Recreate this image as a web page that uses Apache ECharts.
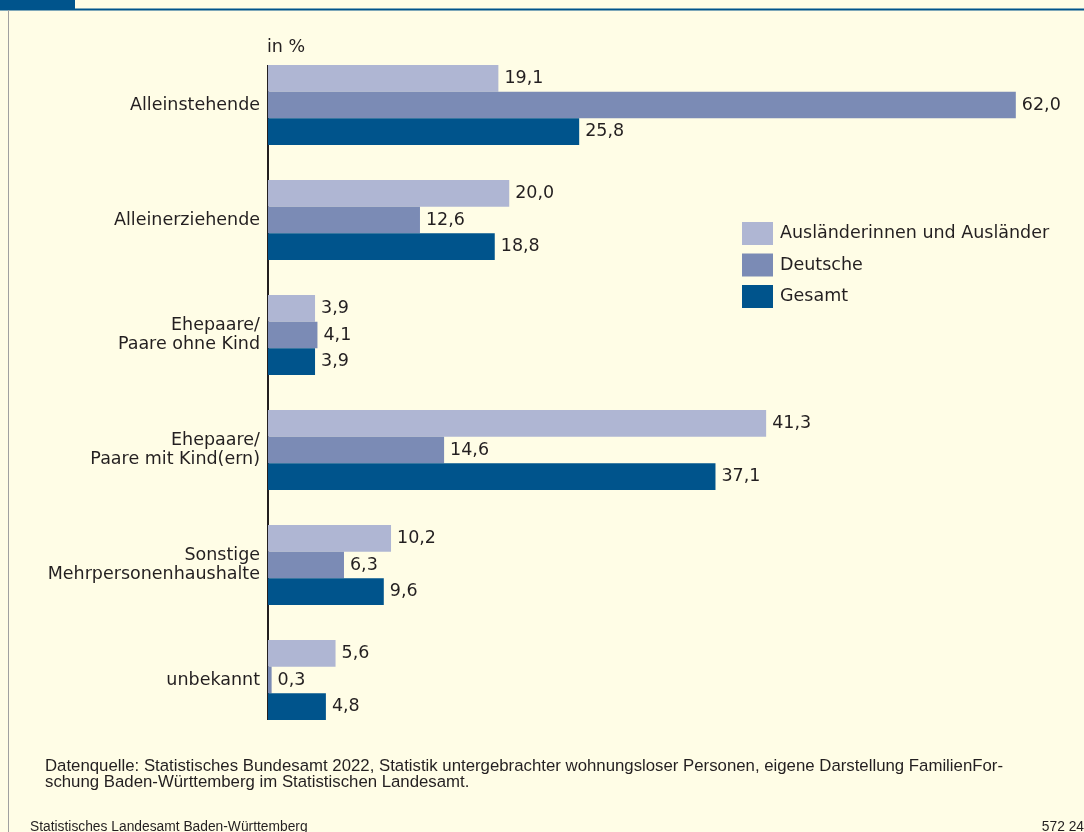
<!DOCTYPE html>
<html>
<head>
<meta charset="utf-8">
<style>
  html, body { margin: 0; padding: 0; background: #fffde6; }
  #chart { width: 1084px; height: 832px; }
</style>
<script src="https://cdn.jsdelivr.net/npm/echarts@6/dist/echarts.min.js"></script>
</head>
<body>
<div id="chart"></div>
<script>
// Kategorien von oben nach unten
var categories = [
  'Alleinstehende',
  'Alleinerziehende',
  'Ehepaare/\nPaare ohne Kind',
  'Ehepaare/\nPaare mit Kind(ern)',
  'Sonstige\nMehrpersonenhaushalte',
  'unbekannt'
]
var auslaender = [19.1, 20.0, 3.9, 41.3, 10.2, 5.6]
var deutsche = [62.0, 12.6, 4.1, 14.6, 6.3, 0.3]
var gesamt = [25.8, 18.8, 3.9, 37.1, 9.6, 4.8]
var seriesNames = ['Ausländerinnen und Ausländer', 'Deutsche', 'Gesamt']

var font = '"DejaVu Sans", Verdana, sans-serif'
var narrow = '"Liberation Sans", Arial, sans-serif'
var textColor = '#231f20'
var fs = 17.5

function makeSeries(name, data, color) {
  return {
    name: name,
    type: 'bar',
    data: data,
    barWidth: 26.7,
    barGap: '0%',
    itemStyle: { color: color },
    label: {
      show: true,
      position: 'right',
      distance: 6,
      color: textColor,
      fontSize: fs,
      fontFamily: font,
      formatter: function (p) {
        return p.value.toFixed(1).replace('.', ',')
      }
    }
  }
}

var chartDom = echarts.init(document.getElementById('chart'))
chartDom.setOption({
  backgroundColor: '#fffde6',
  animation: false,
  textStyle: { fontFamily: font },
  grid: {
    left: 268,
    right: 32,
    top: 47.5,
    bottom: 94.5
  },
  legend: {
    orient: 'vertical',
    left: 742,
    top: 222,
    padding: 0,
    icon: 'rect',
    itemWidth: 31,
    itemHeight: 23,
    itemGap: 8.5,
    data: seriesNames,
    textStyle: { color: textColor, fontSize: fs, fontFamily: font, padding: [0, 0, 0, 2] }
  },
  xAxis: {
    type: 'value',
    min: 0,
    max: 65,
    show: false,
    splitLine: { show: false }
  },
  yAxis: {
    type: 'category',
    inverse: true,
    data: categories,
    axisLine: { show: false },
    axisTick: { show: false },
    axisLabel: {
      color: textColor,
      fontSize: fs,
      fontFamily: font,
      margin: 8,
      lineHeight: 19,
      align: 'right'
    }
  },
  series: [
    makeSeries(seriesNames[0], auslaender, '#afb6d3'),
    makeSeries(seriesNames[1], deutsche, '#7b8bb5'),
    makeSeries(seriesNames[2], gesamt, '#00548c')
  ],
  graphic: [
    // Kopfbalken
    { type: 'rect', shape: { x: 0, y: 0, width: 75, height: 9 }, style: { fill: '#00548c' } },
    { type: 'line', shape: { x1: 0, y1: 9.5, x2: 1084, y2: 9.5 }, style: { stroke: '#00548c', lineWidth: 2 } },
    { type: 'line', shape: { x1: 8.5, y1: 10, x2: 8.5, y2: 832 }, style: { stroke: '#a0a0a0', lineWidth: 1 } },
    // Achse
    { type: 'line', shape: { x1: 268, y1: 65, x2: 268, y2: 720 }, style: { stroke: '#231f20', lineWidth: 2 } },
    { type: 'text', left: 267, top: 38, style: { text: 'in %', fill: textColor, font: fs + 'px ' + font } },
    {
      type: 'text', left: 45, top: 758,
      style: {
        text: 'Datenquelle: Statistisches Bundesamt 2022, Statistik untergebrachter wohnungsloser Personen, eigene Darstellung FamilienFor-\nschung Baden-Württemberg im Statistischen Landesamt.',
        fill: textColor,
        font: '16.8px ' + narrow,
        lineHeight: 16
      }
    },
    { type: 'text', left: 30, top: 820, style: { text: 'Statistisches Landesamt Baden-Württemberg', fill: textColor, font: '13.8px ' + narrow } },
    { type: 'text', right: 0, top: 820, style: { text: '572 24', fill: textColor, font: '13.8px ' + narrow } }
  ]
})
window.addEventListener('resize', function () {
  chartDom.resize()
})
</script>
</body>
</html>
